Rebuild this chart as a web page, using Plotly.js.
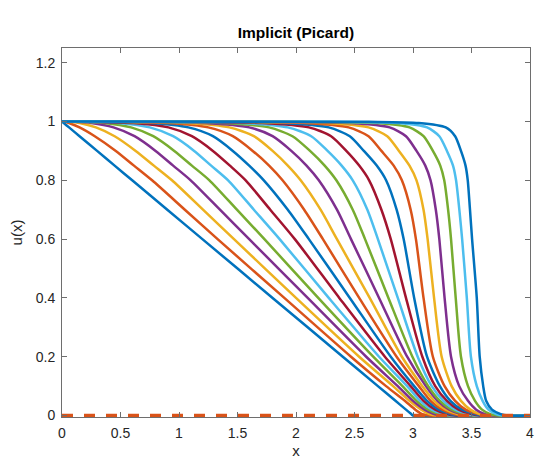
<!DOCTYPE html>
<html>
<head>
<meta charset="utf-8">
<script src="https://cdn.plot.ly/plotly-3.0.1.min.js"></script>
<style>html,body{margin:0;padding:0;background:#fff;}#chart{width:539px;height:459px;}</style>
</head>
<body>
<div id="chart"></div>
<script>
const uLevels = [1, 0.999, 0.995, 0.98, 0.95, 0.9, 0.85, 0.8, 0.7, 0.6, 0.4, 0.2, 0.1, 0.05, 0.02, 0.005, 0, 0];

// x positions of each profile at the u-levels above (last entry = right end of domain)
const curve00 = [0, 0.003, 0.015, 0.06, 0.15, 0.30, 0.45, 0.60, 0.90, 1.20, 1.80, 2.40, 2.70, 2.85, 2.94, 2.985, 3.00, 4];
const curve01 = [0, 0.02, 0.06, 0.15, 0.28, 0.46, 0.615, 0.77, 1.05, 1.33, 1.90, 2.47, 2.77, 2.93, 3.02, 3.08, 3.14, 4];
const curve02 = [0, 0.05, 0.15, 0.29, 0.45, 0.63, 0.785, 0.94, 1.205, 1.47, 2.00, 2.54, 2.83, 2.97, 3.07, 3.14, 3.21, 4];
const curve03 = [0, 0.09, 0.25, 0.44, 0.62, 0.80, 0.95, 1.10, 1.35, 1.60, 2.10, 2.60, 2.87, 3.00, 3.10, 3.18, 3.25, 4];
const curve04 = [0, 0.14, 0.36, 0.59, 0.78, 0.96, 1.11, 1.26, 1.495, 1.73, 2.19, 2.66, 2.91, 3.03, 3.13, 3.22, 3.29, 4];
const curve05 = [0, 0.20, 0.48, 0.75, 0.95, 1.13, 1.275, 1.42, 1.64, 1.86, 2.28, 2.71, 2.95, 3.06, 3.16, 3.26, 3.33, 4];
const curve06 = [0, 0.27, 0.61, 0.91, 1.11, 1.29, 1.435, 1.57, 1.78, 1.99, 2.37, 2.76, 2.98, 3.09, 3.19, 3.29, 3.36, 4];
const curve07 = [0, 0.35, 0.76, 1.08, 1.29, 1.46, 1.60, 1.725, 1.93, 2.11, 2.46, 2.81, 3.01, 3.12, 3.22, 3.32, 3.39, 4];
const curve08 = [0, 0.44, 0.91, 1.25, 1.46, 1.63, 1.77, 1.885, 2.07, 2.23, 2.54, 2.86, 3.05, 3.15, 3.25, 3.35, 3.42, 4];
const curve09 = [0, 0.54, 1.07, 1.43, 1.64, 1.80, 1.93, 2.04, 2.21, 2.35, 2.63, 2.905, 3.08, 3.18, 3.28, 3.38, 3.45, 4];
const curve10 = [0, 0.65, 1.22, 1.60, 1.80, 1.96, 2.09, 2.195, 2.35, 2.47, 2.71, 2.95, 3.11, 3.21, 3.31, 3.41, 3.48, 4];
const curve11 = [0, 0.77, 1.38, 1.77, 1.97, 2.12, 2.245, 2.345, 2.485, 2.59, 2.79, 2.995, 3.13, 3.23, 3.33, 3.44, 3.51, 4];
const curve12 = [0, 0.90, 1.54, 1.93, 2.13, 2.27, 2.39, 2.485, 2.61, 2.70, 2.87, 3.04, 3.16, 3.26, 3.36, 3.47, 3.54, 4];
const curve13 = [0, 1.04, 1.71, 2.11, 2.30, 2.43, 2.54, 2.625, 2.73, 2.81, 2.94, 3.08, 3.19, 3.29, 3.39, 3.50, 3.57, 4];
const curve14 = [0, 1.19, 1.88, 2.28, 2.46, 2.58, 2.69, 2.77, 2.86, 2.92, 3.01, 3.12, 3.23, 3.32, 3.42, 3.53, 3.60, 4];
const curve15 = [0, 1.36, 2.07, 2.45, 2.62, 2.73, 2.835, 2.905, 2.98, 3.025, 3.09, 3.17, 3.27, 3.36, 3.45, 3.56, 3.63, 4];
const curve16 = [0, 1.55, 2.26, 2.62, 2.78, 2.88, 2.97, 3.03, 3.09, 3.125, 3.18, 3.245, 3.33, 3.41, 3.49, 3.57, 3.64, 4];
const curve17 = [0, 1.77, 2.47, 2.80, 2.94, 3.03, 3.105, 3.15, 3.195, 3.225, 3.27, 3.325, 3.395, 3.47, 3.54, 3.615, 3.68, 4];
const curve18 = [0, 2.02, 2.69, 2.97, 3.09, 3.17, 3.233, 3.267, 3.30, 3.325, 3.365, 3.41, 3.47, 3.53, 3.59, 3.66, 3.72, 4];
const curve19 = [0, 2.30, 2.87, 3.12, 3.225, 3.29, 3.342, 3.368, 3.396, 3.42, 3.46, 3.495, 3.545, 3.595, 3.645, 3.71, 3.77, 4];
const curveFinal = [0, 2.62, 3.05, 3.28, 3.36, 3.41, 3.449, 3.468, 3.487, 3.505, 3.545, 3.57, 3.60, 3.625, 3.675, 3.75, 3.81, 4];

const zeroLineX = [0, 4];
const zeroLineY = [0, 0];

const xTicks = [0, 0.5, 1, 1.5, 2, 2.5, 3, 3.5, 4];
const yTicks = [0, 0.2, 0.4, 0.6, 0.8, 1, 1.2];

const palette = ['#0072BD', '#D95319', '#EDB120', '#7E2F8E', '#77AC30', '#4DBEEE', '#A2142F'];
const curves = [curve00, curve01, curve02, curve03, curve04, curve05, curve06, curve07, curve08, curve09,
                curve10, curve11, curve12, curve13, curve14, curve15, curve16, curve17, curve18, curve19];

const traces = curves.map((cx, i) => ({
  x: cx, y: uLevels, type: 'scatter', mode: 'lines',
  line: {color: palette[i % 7], width: 2.5, shape: 'spline', smoothing: 0.7},
  hoverinfo: 'skip', showlegend: false
}));
traces.push({
  x: curveFinal, y: uLevels, type: 'scatter', mode: 'lines',
  line: {color: palette[0], width: 2.5, shape: 'spline', smoothing: 0.7},
  hoverinfo: 'skip', showlegend: false
});
traces.push({
  x: zeroLineX, y: zeroLineY, type: 'scatter', mode: 'lines',
  line: {color: palette[1], width: 3.5, dash: '11px,11px'},
  hoverinfo: 'skip', showlegend: false
});

const FONT = 'Liberation Sans, Arial, Helvetica, sans-serif';
const axisCommon = {
  showline: true, mirror: 'ticks', linecolor: '#6e6e6e', linewidth: 1,
  ticks: 'inside', ticklen: 5, tickcolor: '#6e6e6e', tickwidth: 1,
  showgrid: false, zeroline: false,
  tickfont: {family: FONT, size: 14, color: '#262626'}
};

const layout = {
  width: 539, height: 459,
  margin: {l: 62, r: 9, t: 48, b: 42},
  paper_bgcolor: '#fff', plot_bgcolor: '#fff',
  title: {text: '<b>Implicit (Picard)</b>', x: 0.549, xanchor: 'center', y: 0.928, yanchor: 'middle',
          font: {family: FONT, size: 15.5, color: '#000'}},
  xaxis: Object.assign({}, axisCommon, {
    range: [0, 4], tickvals: xTicks, ticktext: xTicks.map(String), ticklabelstandoff: 3,
    title: {text: 'x', standoff: 12, font: {family: FONT, size: 15, color: '#262626'}}
  }),
  yaxis: Object.assign({}, axisCommon, {
    range: [-0.005, 1.25], tickvals: yTicks, ticktext: yTicks.map(String), ticklabelstandoff: 3,
    title: {text: 'u(x)', standoff: 9, font: {family: FONT, size: 15, color: '#262626'}}
  })
};

Plotly.newPlot('chart', traces, layout, {staticPlot: true, displayModeBar: false});
</script>
</body>
</html>
